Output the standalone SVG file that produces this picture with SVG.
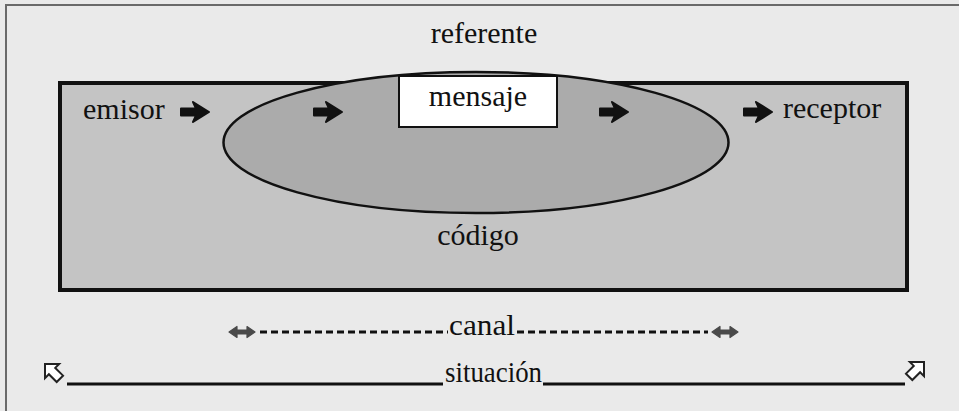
<svg xmlns="http://www.w3.org/2000/svg" width="959" height="411" viewBox="0 0 959 411">
<style>
text{font-family:"Liberation Serif","Times New Roman",serif;font-size:30px;fill:#111}
.heavy{fill:#111;stroke:#111;stroke-width:2;stroke-linejoin:round}
.dbl{fill:#4a4a4a;stroke:#4a4a4a;stroke-width:1.2;stroke-linejoin:round}
.hollow{fill:#fff;stroke:#222;stroke-width:2;stroke-linejoin:miter}
.rule{stroke:#111;stroke-width:3}
</style>
<defs>
<path id="heavy" d="M1,-3.5 L16,-3.5 L13,-10 L29,0 L13,10 L16,3.5 L1,3.5 Z"/>
<path id="dbl" d="M0,0 L8,-5.5 L8,-2 L18,-2 L18,-5.5 L26,0 L18,5.5 L18,2 L8,2 L8,5.5 Z"/>
<path id="hollow" d="M0,0 L10,10 L4.5,10 L4.5,21 L-4.5,21 L-4.5,10 L-10,10 Z"/>
</defs>
<rect width="959" height="411" fill="#eaeaea"/>
<path d="M6,411 L6,5 L959,5" fill="none" stroke="#6a6a6a" stroke-width="2"/>
<g id="codigo">
<rect x="60" y="83" width="847" height="207" fill="#c4c4c4" stroke="#111" stroke-width="4"/>
<ellipse cx="476" cy="142.5" rx="252.5" ry="70.5" fill="#ababab" stroke="#111" stroke-width="2.5"/>
<text x="478" y="245" text-anchor="middle">código</text>
</g>
<g id="referente"><text x="484" y="43" text-anchor="middle">referente</text></g>
<g id="mensaje">
<rect x="399" y="76" width="158" height="51" fill="#fff" stroke="#111" stroke-width="2"/>
<text x="478" y="106" text-anchor="middle">mensaje</text>
</g>
<g id="emisor"><text x="83" y="119">emisor</text></g>
<g id="receptor"><text x="783" y="118">receptor</text></g>
<g id="connectors">
<use href="#heavy" class="heavy" x="180" y="112"/>
<use href="#heavy" class="heavy" x="313" y="112"/>
<use href="#heavy" class="heavy" x="599" y="112"/>
<use href="#heavy" class="heavy" x="743" y="112"/>
</g>
<g id="canal">
<use href="#dbl" class="dbl" x="229" y="332"/>
<line x1="260" y1="332" x2="448" y2="332" stroke="#111" stroke-width="3" stroke-dasharray="7,4"/>
<text x="449" y="335" textLength="66" lengthAdjust="spacingAndGlyphs">canal</text>
<line x1="517" y1="332" x2="708" y2="332" stroke="#111" stroke-width="3" stroke-dasharray="7,4"/>
<use href="#dbl" class="dbl" x="712" y="332"/>
</g>
<g id="situacion">
<use href="#hollow" class="hollow" transform="translate(45,364) rotate(-45)"/>
<line class="rule" x1="67" y1="384" x2="443" y2="384"/>
<text x="445" y="382" textLength="97" lengthAdjust="spacingAndGlyphs">situación</text>
<line class="rule" x1="543" y1="384" x2="905" y2="384"/>
<use href="#hollow" class="hollow" transform="translate(924,362) rotate(45)"/>
</g>
</svg>
